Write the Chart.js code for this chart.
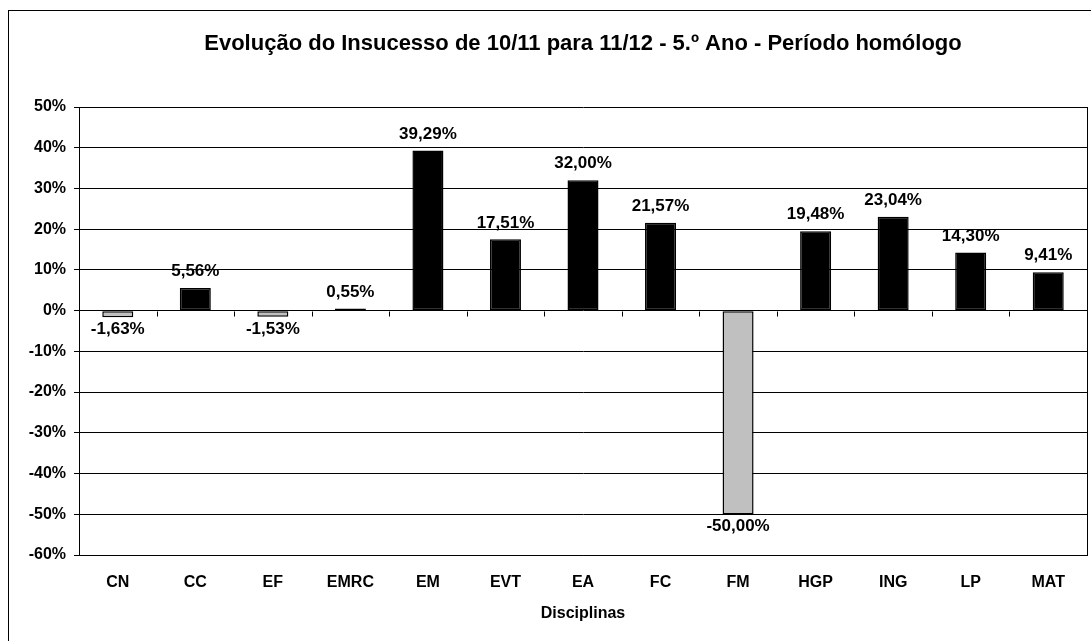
<!DOCTYPE html>
<html>
<head>
<meta charset="utf-8">
<script src="https://cdn.jsdelivr.net/npm/chart.js@4"></script>
<style>
  html, body { margin: 0; padding: 0; background: #fff; overflow: hidden; }
  #wrap { width: 1091px; height: 641px; position: relative; }
</style>
</head>
<body>
<div id="wrap"><canvas id="chart"></canvas></div>
<script>
// data
const categories = ['CN', 'CC', 'EF', 'EMRC', 'EM', 'EVT', 'EA', 'FC', 'FM', 'HGP', 'ING', 'LP', 'MAT'];
const values = [-1.63, 5.56, -1.53, 0.55, 39.29, 17.51, 32.00, 21.57, -50.00, 19.48, 23.04, 14.30, 9.41];
const yTicks = [50, 40, 30, 20, 10, 0, -10, -20, -30, -40, -50, -60];

const chartTitle = 'Evolução do Insucesso de 10/11 para 11/12 - 5.º Ano - Período homólogo';
const xTitle = 'Disciplinas';
const FONT = '"Liberation Sans", Arial, sans-serif';

const fmt = v => v.toFixed(2).replace('.', ',') + '%';

// outer frame, plot frame, title, category tick marks on the zero line, value labels
const decorations = {
  id: 'decorations',
  beforeDraw(chart) {
    const ctx = chart.ctx;
    ctx.save();
    ctx.fillStyle = '#fff';
    ctx.fillRect(0, 0, chart.width, chart.height);
    ctx.strokeStyle = '#000';
    ctx.lineWidth = 1;
    ctx.strokeRect(8.5, 10.5, 1200, 1000);
    ctx.restore();
  },
  afterDatasetsDraw(chart) {
    const { ctx, chartArea: a, scales: { x, y } } = chart;
    ctx.save();
    // plot frame
    ctx.strokeStyle = '#000';
    ctx.lineWidth = 1;
    ctx.beginPath();
    ctx.moveTo(Math.round(a.right) + 0.5, a.top);
    ctx.lineTo(Math.round(a.right) + 0.5, a.bottom);
    ctx.stroke();

    // ticks between categories on the zero line
    const y0 = Math.round(y.getPixelForValue(0)) + 0.5;
    ctx.beginPath();
    for (let i = 0; i < categories.length; i++) {
      const px = Math.round(x.getPixelForValue(i + 0.5)) + 0.5;
      ctx.moveTo(px, y0);
      ctx.lineTo(px, y0 + 5);
    }
    ctx.stroke();

    // value labels
    ctx.fillStyle = '#000';
    ctx.font = 'bold 17px ' + FONT;
    ctx.textAlign = 'center';
    const meta = chart.getDatasetMeta(0);
    meta.data.forEach((bar, i) => {
      const v = values[i];
      if (v >= 0) {
        ctx.textBaseline = 'bottom';
        ctx.fillText(fmt(v), bar.x, bar.y - 8);
      } else {
        ctx.textBaseline = 'top';
        ctx.fillText(fmt(v), bar.x, bar.y + 4);
      }
    });

    // title centred on the plot area
    ctx.font = 'bold 22px ' + FONT;
    ctx.textBaseline = 'alphabetic';
    ctx.fillText(chartTitle, (a.left + a.right) / 2, 50);
    ctx.restore();
  }
};

new Chart(document.getElementById('chart'), {
  type: 'bar',
  data: {
    labels: categories,
    datasets: [{
      data: values,
      backgroundColor: values.map(v => v < 0 ? '#C0C0C0' : '#000000'),
      borderColor: '#000000',
      borderWidth: 1.5,
      borderSkipped: false,
      categoryPercentage: 1,
      barPercentage: 0.4,
    }],
  },
  options: {
    responsive: true,
    maintainAspectRatio: false,
    animation: false,
    layout: { padding: { top: 107, right: 4, left: 0, bottom: 0 } },
    plugins: {
      legend: { display: false },
      title: { display: false },
      tooltip: { enabled: false },
    },
    scales: {
      y: {
        min: -60,
        max: 50,
        afterFit: s => { s.width = 79; },
        afterBuildTicks: s => { s.ticks = yTicks.map(v => ({ value: v })); },
        ticks: {
          stepSize: 10,
          padding: 8,
          color: '#000',
          font: { family: FONT, size: 16, weight: 'bold' },
          callback: v => v + '%',
        },
        grid: { color: '#000', lineWidth: 1, tickLength: 5, drawTicks: true },
        border: { display: true, color: '#000', width: 1 },
      },
      x: {
        afterFit: s => { s.height = 86; },
        ticks: {
          padding: 10,
          color: '#000',
          maxRotation: 0,
          font: { family: FONT, size: 16, weight: 'bold' },
        },
        grid: { display: false },
        border: { display: true, color: '#000', width: 1 },
        title: {
          display: true,
          text: xTitle,
          color: '#000',
          font: { family: FONT, size: 16, weight: 'bold' },
          padding: { top: 0, bottom: 18 },
        },
      },
    },
  },
  plugins: [decorations],
});
</script>
</body>
</html>
